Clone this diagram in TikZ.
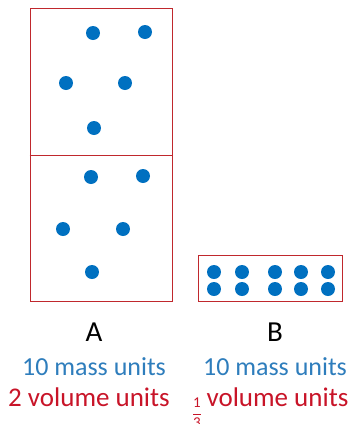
\documentclass[tikz,border=0pt]{standalone}
\usepackage{amsmath}
\usepackage{fontspec}
\setmainfont{Carlito}
\usepackage{xcolor}
\usepackage{tikz}
\usetikzlibrary{positioning}

\definecolor{dotblue}{RGB}{0,112,192}
\definecolor{massblue}{RGB}{46,125,188}
\definecolor{volred}{RGB}{200,20,40}
\definecolor{boxred}{RGB}{192,40,45}

\begin{document}
\begin{tikzpicture}[
    x=1pt, y=-1pt,
    box/.style={draw=boxred, line width=0.9pt, inner sep=0pt, anchor=north west},
    particle/.style={circle, fill=dotblue, minimum size=14pt, inner sep=0pt},
    letter/.style={anchor=base, font=\fontsize{29}{30}\selectfont},
    mass/.style={anchor=base, text=massblue, font=\fontsize{26}{28}\selectfont},
    vol/.style={anchor=base, text=volred, font=\fontsize{27}{28}\selectfont}
]
  \useasboundingbox (0,0) rectangle (357,424);

  % container A, two halves
  \node[box, minimum width=142.5pt, minimum height=146.5pt] (topA) at (29.5,8) {};
  \node[box, minimum width=142.5pt, minimum height=146.5pt] (botA) at (29.5,154.5) {};
  \draw[boxred, line width=1.8pt] (topA.south west) -- (topA.south east);

  % container B
  \node[box, minimum width=144pt, minimum height=45.5pt] (boxB) at (198,255) {};

  % particles in A
  \node[particle] (t1) at (93,33) {};
  \node[particle] (t2) at (145,32) {};
  \node[particle] (t3) at (66,83) {};
  \node[particle] (t4) at (125,83) {};
  \node[particle] (t5) at (94,128) {};
  \node[particle] (u1) at (91,177) {};
  \node[particle] (u2) at (143,176) {};
  \node[particle] (u3) at (63,229) {};
  \node[particle] (u4) at (123,229) {};
  \node[particle] (u5) at (92,272) {};

  % particles in B
  \foreach \x [count=\i] in {214,242,275,301,328} {
    \node[particle] (bt\i) at (\x,272) {};
    \node[particle] (bb\i) at (\x,289) {};
  }

  % labels
  \node[letter] (labA) at (94,341.5) {A};
  \node[letter] (labB) at (275,341.5) {B};
  \node[mass] (massA) at (94,375) {10 mass units};
  \node[mass] (massB) at (275,375) {10 mass units};
  \node[vol] (volA) at (89,406.5) {2 volume units};
  \node[vol] (volB) at (277.5,406.5) {volume units};
  \node[text=volred, font=\fontsize{15}{15}\selectfont, inner sep=0pt] (fracB) at (197,413)
    {$\dfrac{\text{1}}{\text{3}}$};
\end{tikzpicture}
\end{document}
